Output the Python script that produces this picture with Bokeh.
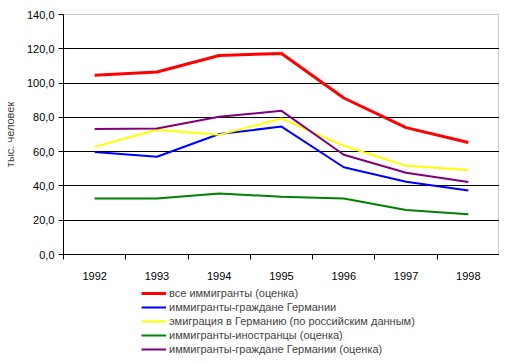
from bokeh.plotting import figure
from bokeh.models import FixedTicker, Legend, LegendItem, Range1d
from bokeh.layouts import column
from bokeh.embed import file_html
from bokeh.resources import INLINE

years = ["1992", "1993", "1994", "1995", "1996", "1997", "1998"]
all_imm = [104.6, 106.5, 116.1, 117.3, 91.3, 74.0, 65.3]
citizens = [59.8, 57.0, 70.3, 74.6, 50.9, 42.4, 37.4]
emigration_ru = [62.8, 72.8, 69.8, 79.3, 63.4, 51.7, 49.3]
foreigners = [32.7, 32.7, 35.6, 33.7, 32.7, 26.0, 23.5]
citizens_est = [73.2, 73.5, 80.4, 83.8, 58.2, 47.7, 42.3]

series = [
    ("все иммигранты (оценка)", all_imm, "#ff0000", 3),
    ("иммигранты-граждане Германии", citizens, "#0000ff", 2),
    ("эмиграция в Германию (по российским данным)", emigration_ru, "#ffff00", 2),
    ("иммигранты-иностранцы (оценка)", foreigners, "#008000", 2),
    ("иммигранты-граждане Германии (оценка)", citizens_est, "#800080", 2),
]
y_ticks = [0, 20, 40, 60, 80, 100, 120, 140]

FONT = "Liberation Sans"
xs = [i + 0.5 for i in range(len(years))]

p = figure(width=499, height=284, output_backend="svg", toolbar_location=None,
           x_range=Range1d(0, len(years)), y_range=Range1d(0, 140),
           min_border_left=55, min_border_right=0, min_border_top=14, min_border_bottom=30)
p.outline_line_color = "#c8c8c8"
p.background_fill_color = "white"
p.border_fill_color = "white"

for label, vals, color, w in series:
    p.line(xs, vals, line_color=color, line_width=w)

# axes
p.xaxis.ticker = FixedTicker(ticks=xs, minor_ticks=list(range(len(years) + 1)))
p.xaxis.major_label_overrides = {x: y for x, y in zip(xs, years)}
p.xaxis.major_tick_out = 0
p.xaxis.major_tick_in = 0
p.xaxis.minor_tick_out = 5
p.xaxis.minor_tick_in = 0
p.xaxis.minor_tick_line_color = "black"
p.xaxis.major_label_standoff = 12

p.yaxis.ticker = FixedTicker(ticks=y_ticks)
p.yaxis.major_label_overrides = {t: f"{t},0" for t in y_ticks}
p.yaxis.major_tick_out = 5
p.yaxis.major_tick_in = 0
p.yaxis.minor_tick_line_color = None
p.yaxis.major_label_standoff = 4
p.yaxis.axis_label = "тыс. человек"
p.yaxis.axis_label_text_font_style = "normal"
p.yaxis.axis_label_text_font_size = "11px"
p.yaxis.axis_label_text_font = FONT
p.yaxis.axis_label_standoff = 8

for ax in (p.xaxis, p.yaxis):
    ax.axis_line_color = "black"
    ax.major_tick_line_color = "black"
    ax.major_label_text_font = FONT
    ax.major_label_text_font_size = "11px"
    ax.major_label_text_color = "black"

p.xgrid.grid_line_color = None
p.ygrid.ticker = FixedTicker(ticks=y_ticks[1:-1])
p.ygrid.grid_line_color = "black"
p.ygrid.grid_line_width = 1

# legend panel (separate figure below the chart)
lg = figure(width=499, height=77, output_backend="svg", toolbar_location=None,
            x_range=Range1d(0, len(years)), y_range=Range1d(1000, 1001),
            min_border_left=0, min_border_right=0, min_border_top=0, min_border_bottom=0)
lg.axis.visible = False
lg.grid.visible = False
lg.outline_line_color = None
lg.border_fill_color = "white"
items = []
for label, vals, color, w in series:
    r = lg.line(xs, vals, line_color=color, line_width=w)
    items.append(LegendItem(label=label, renderers=[r]))
legend = Legend(items=items, orientation="vertical", location=(78, 5),
                label_text_font=FONT, label_text_font_size="11px",
                label_height=14, glyph_height=14, glyph_width=25,
                label_standoff=3, spacing=0, padding=0, margin=0,
                border_line_alpha=0, background_fill_alpha=0)
lg.add_layout(legend, "center")

layout = column(p, lg, spacing=0)
open("out.html", "w").write(file_html(layout, INLINE))
